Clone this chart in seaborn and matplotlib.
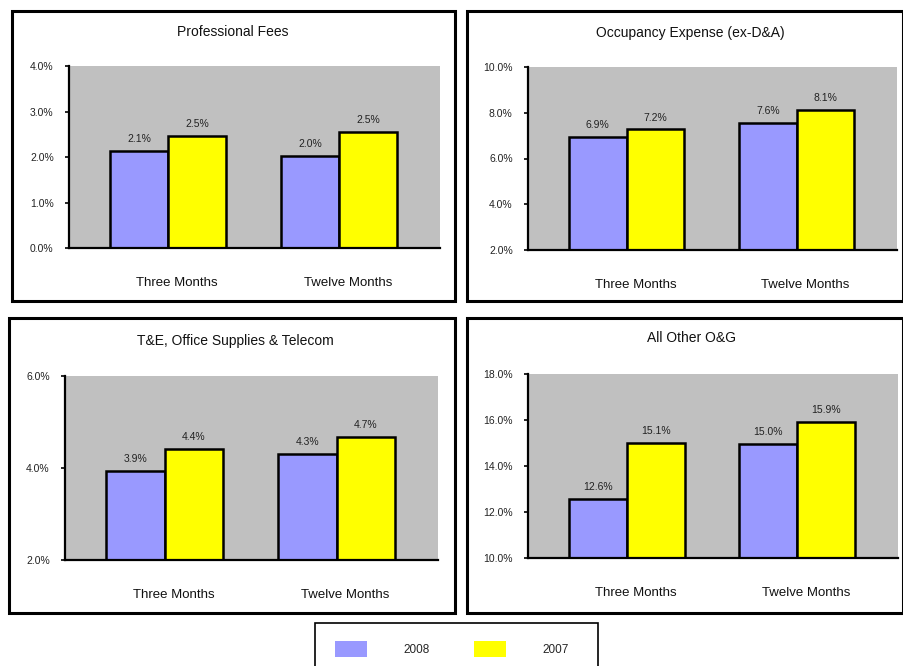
import pandas as pd
import matplotlib.pyplot as plt
import seaborn as sns
from matplotlib.patches import Rectangle, Patch
from matplotlib.ticker import FuncFormatter
from matplotlib.transforms import ScaledTranslation

sns.set_theme(style="white")
plt.rcParams['font.family'] = ['Liberation Sans', 'DejaVu Sans']

periods = ["Three Months", "Twelve Months"]
years = ["2008", "2007"]

titles = ["Professional Fees", "Occupancy Expense (ex-D&A)",
          "T&E, Office Supplies & Telecom", "All Other O&G"]

# values (percent), 2008 then 2007 per period
vals_2008 = [[2.14, 2.03], [6.95, 7.56], [3.94, 4.30], [12.56, 14.96]]
vals_2007 = [[2.46, 2.55], [7.27, 8.14], [4.42, 4.68], [14.99, 15.92]]

# data labels as printed on the chart
labels_2008 = [["2.1%", "2.0%"], ["6.9%", "7.6%"], ["3.9%", "4.3%"], ["12.6%", "15.0%"]]
labels_2007 = [["2.5%", "2.5%"], ["7.2%", "8.1%"], ["4.4%", "4.7%"], ["15.1%", "15.9%"]]

y_ranges = [(0, 4), (2, 10), (2, 6), (10, 18)]
y_ticks = [[0, 1, 2, 3, 4], [2, 4, 6, 8, 10], [2, 4, 6], [10, 12, 14, 16, 18]]

colors = ["#9999FF", "#FFFF00"]

W, H = 904, 666
fig = plt.figure(figsize=(W / 100, H / 100), dpi=100)

# pixel boxes: axes (x0, y0, x1, y1), frame (x0, y0, x1, y1), title center
axes_px = [(69, 66, 440, 248), (528, 67, 897, 250), (65, 376, 438, 560), (528, 374, 898, 558)]
frame_px = [(12, 11, 455, 301), (467, 11, 903, 301), (9, 318, 455, 613), (467, 318, 903, 613)]
title_px = [(233, 32), (690, 33), (235, 341), (692, 338)]


def px_rect(x0, y0, x1, y1):
    return [x0 / W, 1 - y1 / H, (x1 - x0) / W, (y1 - y0) / H]


for i in range(4):
    fx0, fy0, fx1, fy1 = frame_px[i]
    fig.patches.append(Rectangle((fx0 / W, 1 - fy1 / H), (fx1 - fx0) / W, (fy1 - fy0) / H,
                                 transform=fig.transFigure, fill=False,
                                 edgecolor="black", linewidth=2.2, zorder=0))
    fig.text(title_px[i][0] / W, 1 - title_px[i][1] / H, titles[i],
             ha="center", va="center", fontsize=10, color="#111111")

    ax = fig.add_axes(px_rect(*axes_px[i]))
    df = pd.DataFrame({
        "period": periods * 2,
        "year": [years[0]] * 2 + [years[1]] * 2,
        "value": vals_2008[i] + vals_2007[i],
    })
    sns.barplot(data=df, x="period", y="value", hue="year", hue_order=years,
                palette=colors, saturation=1, errorbar=None, width=0.68,
                edgecolor="black", linewidth=1.8, legend=False, ax=ax)

    for cont, labs in zip(ax.containers, [labels_2008[i], labels_2007[i]]):
        ax.bar_label(cont, labels=labs, padding=5, fontsize=7.5, color="#222222")

    ax.set_facecolor("#C0C0C0")
    ax.set_xlim(-0.58, 1.59)
    ax.set_ylim(*y_ranges[i])
    ax.set_yticks(y_ticks[i])
    ax.yaxis.set_major_formatter(FuncFormatter(lambda v, p: f"{v:.1f}%"))
    ax.set_xlabel("")
    ax.set_ylabel("")
    for s in ["top", "right"]:
        ax.spines[s].set_visible(False)
    for s in ["left", "bottom"]:
        ax.spines[s].set_color("black")
        ax.spines[s].set_linewidth(1.6)
    ax.tick_params(axis="y", left=True, direction="out", length=3, width=1.4,
                   pad=8, labelsize=7.5, labelcolor="#222222")
    ax.tick_params(axis="x", length=0, pad=21, labelsize=9.5, labelcolor="#111111")
    for lab in ax.get_xticklabels():
        lab.set_transform(lab.get_transform() + ScaledTranslation(0.09, 0, fig.dpi_scale_trans))

# legend box and entries
fig.patches.append(Rectangle((315 / W, 1 - 690 / H), (598 - 315) / W, (690 - 623) / H,
                             transform=fig.transFigure, fill=False,
                             edgecolor="black", linewidth=1.2, clip_on=False))
handles = [Patch(facecolor=c, edgecolor="none") for c in colors]
fig.legend(handles=handles, labels=years, ncol=2, frameon=False, loc="center",
           bbox_to_anchor=(452 / W, 1 - 649 / H), fontsize=8.5,
           handlelength=2.7, handleheight=1.6, handletextpad=3.1, columnspacing=3.7)

fig.savefig("out.png", dpi=100, facecolor="white")
